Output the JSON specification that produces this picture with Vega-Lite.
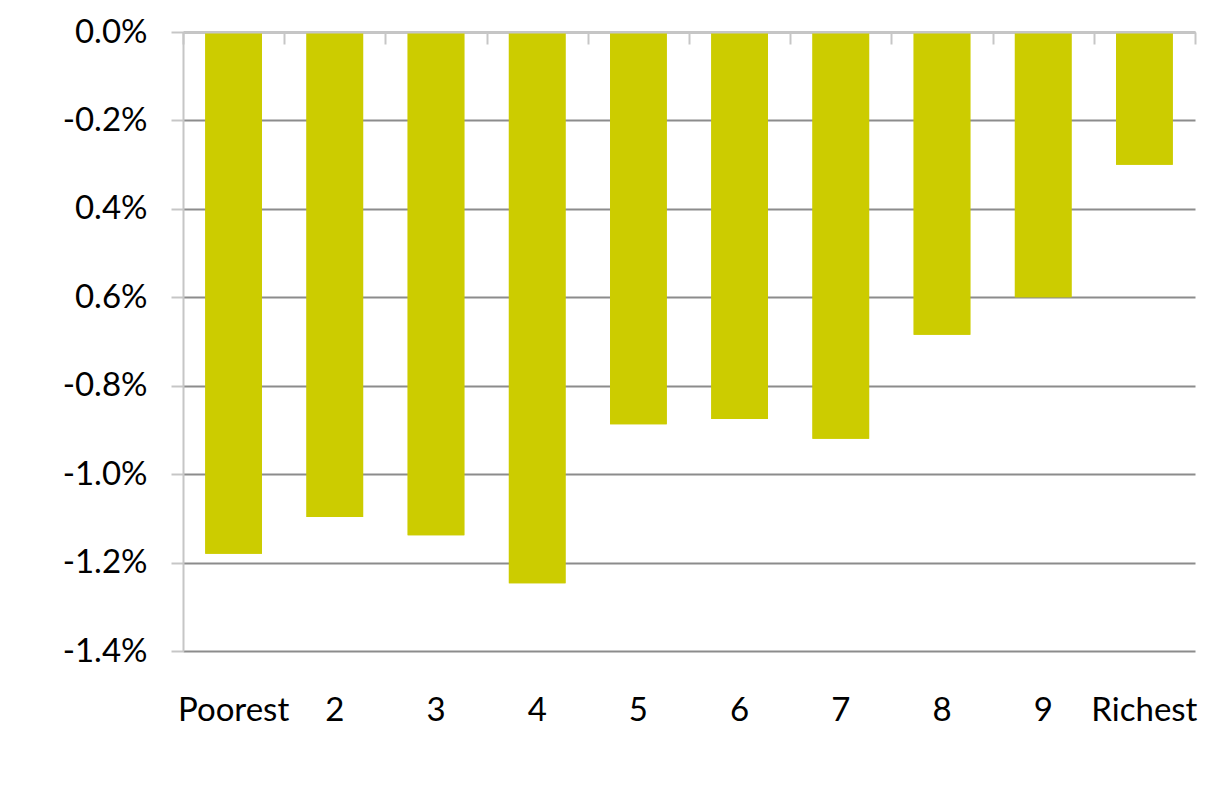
{
  "$schema": "https://vega.github.io/schema/vega-lite/v6.json",
  "autosize": "none",
  "width": 1012,
  "height": 619,
  "padding": {"left": 183, "top": 32, "right": 32, "bottom": 141},
  "background": "#ffffff",
  "config": {
    "view": {"stroke": null},
    "font": "Lato",
    "axis": {"labelFont": "Lato", "labelFontSize": 33, "labelColor": "#000000"}
  },
  "data": {
    "values": [
      {"decile": "Poorest", "change": -1.18},
      {"decile": "2", "change": -1.097},
      {"decile": "3", "change": -1.138},
      {"decile": "4", "change": -1.247},
      {"decile": "5", "change": -0.887},
      {"decile": "6", "change": -0.875},
      {"decile": "7", "change": -0.92},
      {"decile": "8", "change": -0.685},
      {"decile": "9", "change": -0.60},
      {"decile": "Richest", "change": -0.30}
    ]
  },
  "resolve": {"axis": {"x": "independent", "y": "independent"}},
  "layer": [
    {
      "mark": {"type": "bar", "color": "#cccc00", "width": {"band": 0.56}},
      "encoding": {
        "x": {
          "field": "decile",
          "type": "nominal",
          "sort": null,
          "scale": {"paddingInner": 0, "paddingOuter": 0},
          "axis": {
            "orient": "bottom",
            "title": null,
            "domain": false,
            "ticks": false,
            "labelAngle": 0,
            "labelBaseline": "top",
            "labelPadding": 43,
            "zindex": 0
          }
        },
        "y": {
          "field": "change",
          "type": "quantitative",
          "scale": {"domain": [-1.4, 0], "nice": false, "zero": true},
          "axis": {
            "title": null,
            "values": [0, -0.2, -0.4, -0.6, -0.8, -1.0, -1.2, -1.4],
            "labelExpr": "(datum.value < -0.001 && abs(datum.value + 0.4) > 0.001 && abs(datum.value + 0.6) > 0.001 ? '-' : '') + format(abs(datum.value), '.1f') + '%'",
            "domain": true,
            "domainColor": "#c6c6c6",
            "domainWidth": 2,
            "ticks": true,
            "tickSize": 12,
            "tickColor": "#c6c6c6",
            "tickWidth": 2,
            "labelPadding": 24,
            "grid": true,
            "gridColor": "#8c8c8c",
            "gridWidth": 2,
            "zindex": 0
          }
        }
      }
    },
    {
      "mark": {"type": "bar", "color": "#cccc00", "width": {"band": 0.56}},
      "encoding": {
        "x": {
          "field": "decile",
          "type": "nominal",
          "sort": null,
          "axis": {
            "orient": "top",
            "title": null,
            "labels": false,
            "domain": true,
            "domainColor": "#c6c6c6",
            "domainWidth": 2,
            "ticks": true,
            "tickBand": "extent",
            "tickSize": -12,
            "tickColor": "#c6c6c6",
            "tickWidth": 2,
            "zindex": 1
          }
        },
        "y": {
          "field": "change",
          "type": "quantitative",
          "axis": null
        }
      }
    }
  ]
}
